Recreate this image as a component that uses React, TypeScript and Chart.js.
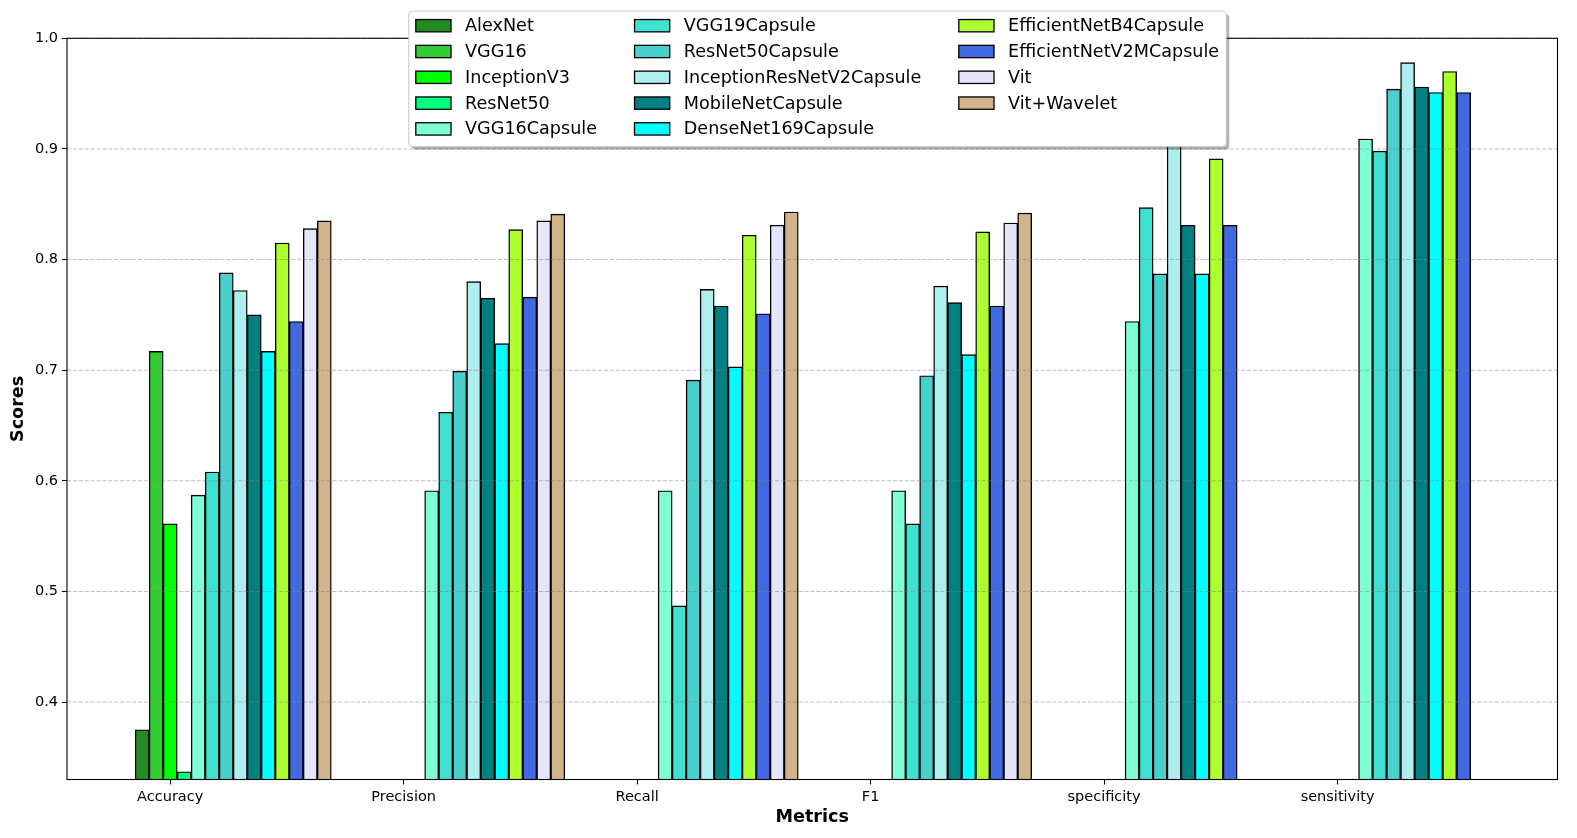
import React, { useEffect, useRef } from "react";
import { Chart, registerables } from "chart.js";

Chart.register(...registerables);

const FONT = '"DejaVu Sans", "Liberation Sans", sans-serif';

const categories = ["Accuracy", "Precision", "Recall", "F1", "specificity", "sensitivity"];

const seriesNames = [
  "AlexNet",
  "VGG16",
  "InceptionV3",
  "ResNet50",
  "VGG16Capsule",
  "VGG19Capsule",
  "ResNet50Capsule",
  "InceptionResNetV2Capsule",
  "MobileNetCapsule",
  "DenseNet169Capsule",
  "EfficientNetB4Capsule",
  "EfficientNetV2MCapsule",
  "Vit",
  "Vit+Wavelet",
];

const seriesColors = [
  "#228B22",
  "#32CD32",
  "#00FF00",
  "#00FF7F",
  "#7FFFD4",
  "#40E0D0",
  "#48D1CC",
  "#AFEEEE",
  "#008080",
  "#00FFFF",
  "#ADFF2F",
  "#4169E1",
  "#E6E6FA",
  "#D2B48C",
];

const alexNet = [0.375, null, null, null, null, null];
const vgg16 = [0.717, null, null, null, null, null];
const inceptionV3 = [0.561, null, null, null, null, null];
const resNet50 = [0.337, null, null, null, null, null];
const vgg16Capsule = [0.587, 0.591, 0.591, 0.591, 0.744, 0.909];
const vgg19Capsule = [0.608, 0.662, 0.487, 0.561, 0.847, 0.898];
const resNet50Capsule = [0.788, 0.699, 0.691, 0.695, 0.787, 0.954];
const inceptionResNetV2Capsule = [0.772, 0.78, 0.773, 0.776, 0.95, 0.978];
const mobileNetCapsule = [0.75, 0.765, 0.758, 0.761, 0.831, 0.956];
const denseNet169Capsule = [0.717, 0.724, 0.703, 0.714, 0.787, 0.951];
const efficientNetB4Capsule = [0.815, 0.827, 0.822, 0.825, 0.891, 0.97];
const efficientNetV2MCapsule = [0.744, 0.766, 0.751, 0.758, 0.831, 0.951];
const vit = [0.828, 0.835, 0.831, 0.833, null, null];
const vitWavelet = [0.835, 0.841, 0.843, 0.842, null, null];

const seriesValues = [
  alexNet,
  vgg16,
  inceptionV3,
  resNet50,
  vgg16Capsule,
  vgg19Capsule,
  resNet50Capsule,
  inceptionResNetV2Capsule,
  mobileNetCapsule,
  denseNet169Capsule,
  efficientNetB4Capsule,
  efficientNetV2MCapsule,
  vit,
  vitWavelet,
];

const yTickValues = [0.4, 0.5, 0.6, 0.7, 0.8, 0.9, 1.0];

const Y_MIN = 0.33;
const Y_MAX = 1.0;
const X_MIN = -0.322;
const X_MAX = 6.062;
const BAR_STEP = 0.06;
const TICK_SHIFT = 2 * BAR_STEP;

const overlayPlugin = {
  id: "overlay",
  afterDatasetsDraw(chart: any) {
    const { ctx, chartArea: a, scales } = chart;
    const y = scales.y;
    ctx.save();
    ctx.strokeStyle = "rgba(128,128,128,0.5)";
    ctx.lineWidth = 1.1;
    ctx.setLineDash([4.1, 1.8]);
    for (const v of yTickValues) {
      const py = y.getPixelForValue(v);
      ctx.beginPath();
      ctx.moveTo(a.left, py);
      ctx.lineTo(a.right, py);
      ctx.stroke();
    }
    ctx.setLineDash([]);
    ctx.strokeStyle = "#000";
    ctx.lineWidth = 1.1;
    ctx.strokeRect(a.left, a.top, a.right - a.left, a.bottom - a.top);
    ctx.restore();
  },
  afterDraw(chart: any) {
    const { ctx } = chart;
    const fs = 17.6;
    const pad = 0.4 * fs;
    const handleLen = 2 * fs;
    const handlePad = 0.8 * fs;
    const colSpace = 2.13 * fs;
    const rowH = 25.8;
    const nRows = 5;
    const nCols = Math.ceil(seriesNames.length / nRows);
    ctx.save();
    ctx.font = `${fs}px ${FONT}`;
    const colWidths: number[] = [];
    for (let c = 0; c < nCols; c++) {
      let w = 0;
      for (let r = 0; r < nRows; r++) {
        const idx = c * nRows + r;
        if (idx < seriesNames.length) w = Math.max(w, ctx.measureText(seriesNames[idx]).width);
      }
      colWidths.push(w);
    }
    const boxW =
      2 * pad + colWidths.reduce((s, w) => s + w + handleLen + handlePad, 0) + colSpace * (nCols - 1);
    const boxH = 135.5;
    const boxLeft = 817.5 - boxW / 2;
    const boxTop = 11;
    const radius = 4;

    ctx.fillStyle = "rgba(0,0,0,0.3)";
    ctx.beginPath();
    if ((ctx as any).roundRect) (ctx as any).roundRect(boxLeft + 3, boxTop + 3, boxW, boxH, radius);
    else ctx.rect(boxLeft + 3, boxTop + 3, boxW, boxH);
    ctx.fill();
    ctx.fillStyle = "#ffffff";
    ctx.strokeStyle = "#cccccc";
    ctx.lineWidth = 1.1;
    ctx.beginPath();
    if ((ctx as any).roundRect) (ctx as any).roundRect(boxLeft, boxTop, boxW, boxH, radius);
    else ctx.rect(boxLeft, boxTop, boxW, boxH);
    ctx.fill();
    ctx.stroke();

    ctx.textBaseline = "middle";
    ctx.textAlign = "left";
    let x = boxLeft + pad;
    for (let c = 0; c < nCols; c++) {
      for (let r = 0; r < nRows; r++) {
        const idx = c * nRows + r;
        if (idx >= seriesNames.length) continue;
        const cy = boxTop + 14.7 + r * rowH;
        const sh = 0.7 * fs;
        ctx.fillStyle = seriesColors[idx];
        ctx.fillRect(x, cy - sh / 2, handleLen, sh);
        ctx.strokeStyle = "#000";
        ctx.lineWidth = 1.3;
        ctx.strokeRect(x, cy - sh / 2, handleLen, sh);
        ctx.fillStyle = "#000";
        ctx.fillText(seriesNames[idx], x + handleLen + handlePad, cy + 1);
      }
      x += handleLen + handlePad + colWidths[c] + colSpace;
    }
    ctx.restore();
  },
};

export default function App() {
  const canvasRef = useRef<HTMLCanvasElement | null>(null);

  useEffect(() => {
    document.body.style.margin = "0";
    const canvas = canvasRef.current;
    if (!canvas) return;

    const datasets = seriesNames.map((name, j) => ({
      label: name,
      data: seriesValues[j].map((v, c) => ({ x: c + j * BAR_STEP, y: v })),
      backgroundColor: seriesColors[j],
      borderColor: "#000000",
      borderWidth: 1.4,
      grouped: false,
      barPercentage: 1,
      categoryPercentage: 1,
    }));

    const chart = new Chart(canvas, {
      type: "bar",
      data: { datasets } as any,
      plugins: [overlayPlugin],
      options: {
        responsive: false,
        animation: false,
        layout: { padding: { top: 38.3, right: 19.5, bottom: 0, left: 0 } },
        plugins: {
          legend: { display: false },
          tooltip: { enabled: false },
        },
        scales: {
          x: {
            type: "linear",
            offset: false,
            min: X_MIN,
            max: X_MAX,
            afterBuildTicks: (s: any) => {
              s.ticks = categories.map((_, i) => ({ value: i + TICK_SHIFT }));
            },
            afterFit: (s: any) => {
              s.height = 58.5;
              s.paddingLeft = 0;
              s.paddingRight = 0;
            },
            ticks: {
              callback: (_v: any, i: number) => categories[i],
              font: { size: 14.5, family: FONT },
              color: "#000",
              padding: 4,
              autoSkip: false,
              maxRotation: 0,
            },
            grid: {
              offset: false,
              drawOnChartArea: false,
              drawTicks: true,
              tickLength: 5,
              tickColor: "#000",
              tickWidth: 1.1,
              color: "#000",
            },
            border: { display: false },
            title: {
              display: true,
              text: "Metrics",
              color: "#000",
              font: { size: 17.6, weight: "bold", family: FONT },
              padding: { top: 0, bottom: 10.4 },
            },
          },
          y: {
            type: "linear",
            min: Y_MIN,
            max: Y_MAX,
            afterBuildTicks: (s: any) => {
              s.ticks = yTickValues.map((v) => ({ value: v }));
            },
            afterFit: (s: any) => {
              s.width = 67;
              s.paddingTop = 0;
              s.paddingBottom = 0;
            },
            ticks: {
              callback: (v: any) => Number(v).toFixed(1),
              font: { size: 14.5, family: FONT },
              color: "#000",
              padding: 4,
            },
            grid: {
              drawOnChartArea: false,
              drawTicks: true,
              tickLength: 5,
              tickColor: "#000",
              tickWidth: 1.1,
              color: "#000",
            },
            border: { display: false },
            title: {
              display: true,
              text: "Scores",
              color: "#000",
              font: { size: 17.6, weight: "bold", family: FONT },
              padding: { top: 7.7, bottom: 0 },
            },
          },
        },
      } as any,
    });

    return () => {
      chart.destroy();
    };
  }, []);

  return (
    <div style={{ width: 1577, height: 838, position: "relative", background: "#fff" }}>
      <canvas ref={canvasRef} width={1577} height={838} style={{ display: "block" }} />
    </div>
  );
}
